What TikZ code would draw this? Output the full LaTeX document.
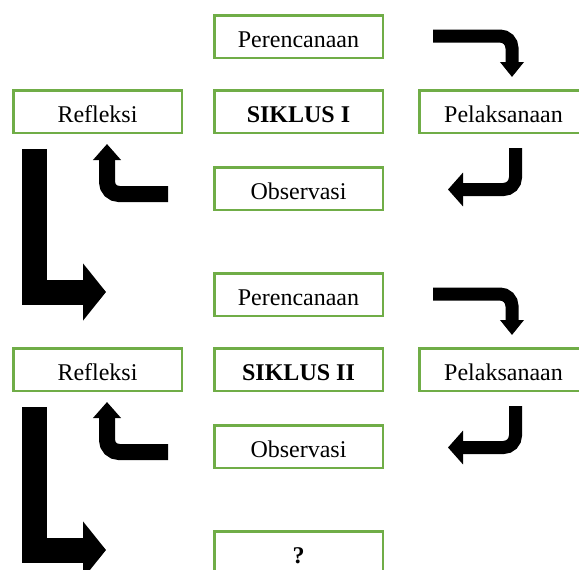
\documentclass[tikz,border=0pt]{standalone}
\usepackage{fontspec}
\setmainfont{Liberation Serif}
\usepackage{xcolor}
\usetikzlibrary{arrows.meta, positioning}

\definecolor{hijau}{RGB}{112,173,71}
\tikzset{
  tahap/.style={draw=hijau, line width=1.25pt, minimum width=84.25pt,
    minimum height=21.25pt, inner sep=0pt, text height=11pt, text depth=0pt,
    font=\fontsize{12}{14}\selectfont},
  panah/.style={draw=black, line width=#1}
}

\begin{document}
\begin{tikzpicture}[x=0.5pt, y=-0.5pt]
    \useasboundingbox (0,0) rectangle (579,569);
    % 1. Dua siklus
    \foreach \dy/\nama/\k in {0/I/1, 258/II/2}{
        \node[tahap] (per\k) at (298.5,36.5+\dy) {Perencanaan};
        \node[tahap] (ref\k) at (97.5,111.5+\dy) {Refleksi};
        \node[tahap] (sik\k) at (298.5,111.5+\dy) {\textbf{SIKLUS \nama}};
        \node[tahap] (pel\k) at (503.5,111.5+\dy) {Pelaksanaan};
        \node[tahap] (obs\k) at (298.5,188.5+\dy) {Observasi};
        % 2. Titik ujung panah
        \coordinate (dariPer\k) at (433,36+\dy);
        \coordinate (kePel\k) at (512,77+\dy);
        \coordinate (dariPel\k) at (515.5,148+\dy);
        \coordinate (keObs\k) at (448,189.5+\dy);
        \coordinate (dariObs\k) at (168,194+\dy);
        \coordinate (keRef\k) at (107,144+\dy);
        \coordinate (dariRef\k) at (34.5,149+\dy);
        \coordinate (lanjut\k) at (106,292+\dy);
        % 3. Panah
        \draw[panah=6.5pt, rounded corners=6pt, -{Triangle[length=7.5pt,width=11.5pt]}]
            (dariPer\k) -| (kePel\k);
        \draw[panah=6.5pt, rounded corners=6pt, -{Triangle[length=7.5pt,width=16.5pt]}]
            (dariPel\k) |- (keObs\k);
        \draw[panah=8pt, rounded corners=6pt, -{Triangle[length=8pt,width=13.5pt]}]
            (dariObs\k) -| (keRef\k);
        \draw[panah=12.5pt, -{Triangle[length=11.5pt,width=28pt]}]
            (dariRef\k) |- (lanjut\k);
    }
    % 4. Siklus berikutnya
    \node[tahap] (tanya) at (298.5,552.5) {\textbf{?}};
\end{tikzpicture}
\end{document}
